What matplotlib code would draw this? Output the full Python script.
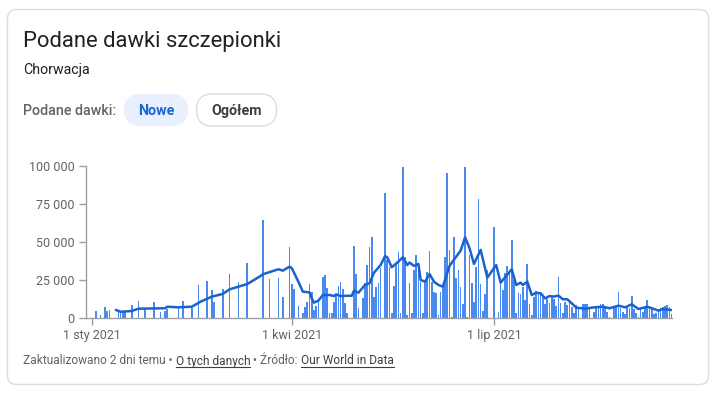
import numpy as np
import pandas as pd
import matplotlib
matplotlib.use("Agg")
import matplotlib.pyplot as plt
from matplotlib.patches import FancyBboxPatch
from matplotlib.transforms import IdentityTransform

plt.rcParams['font.family'] = ['Roboto', 'DejaVu Sans']

# daily doses: day offset from 1 Jan 2021 -> doses
bar_days = [-3, 2, 4, 6, 7, 8, 12, 13, 14, 15, 18, 21, 24, 28, 31, 33, 34, 39, 41, 45,
            48, 52, 54, 55, 59, 62, 66, 70, 77, 80, 84, 86, 89, 90, 91, 93, 95, 96, 97, 98,
            99, 100, 101, 102, 104, 105, 106, 107, 108, 109, 110, 111, 112, 113, 114, 115,
            118, 119, 120, 122, 123, 124, 125, 126, 127, 128, 129, 130, 132, 133, 134, 135,
            136, 137, 138, 139, 140, 141, 142, 143, 144, 145, 146, 147, 148, 149, 150, 151,
            152, 153, 154, 155, 156, 157, 158, 159, 160, 161, 162, 163, 164, 165, 166, 167,
            168, 169, 170, 171, 172, 173, 174, 175, 176, 177, 178, 181, 183, 184, 185, 186,
            187, 188, 189, 190, 191, 192, 193, 194, 195, 196, 197, 198, 199, 200, 201, 202,
            203, 204, 205, 206, 207, 208, 209, 210, 211, 212, 213, 214, 215, 216, 217, 218,
            219, 221, 222, 223, 224, 226, 227, 228, 229, 230, 231, 232, 233, 235, 236, 237,
            238, 239, 240, 241, 242, 243, 244, 245, 246, 247, 248, 249, 250, 251, 252, 253,
            254, 255, 256, 257, 258, 259, 260, 261]
bar_vals = [8300, 4800, 2200, 7200, 4800, 5400, 5700, 4000, 4500, 4500, 8700, 11400, 6600, 10500, 4300, 4800, 6300, 6500, 11400, 7000,
            21900, 24500, 18600, 10900, 19200, 29100, 23900, 36100, 64600, 25600, 26300, 14200, 46600, 22500, 19200, 8100, 3300, 7600, 10900, 22500,
            17500, 5400, 8100, 10900, 26900, 28400, 19700, 3300, 3700, 10900, 15300, 21400, 24000, 19000, 9800, 3300,
            47500, 29100, 6600, 13100, 23000, 35000, 46600, 53200, 14200, 20800, 23000, 33300, 82100, 38300, 33900, 3300,
            21200, 36100, 43800, 3300, 99600, 40500, 2200, 23000, 3300, 31700, 41600, 36100, 24000, 3300, 24000, 30600,
            44400, 24000, 17500, 16400, 2200, 17500, 21900, 40500, 95700, 44900, 1100, 53200, 26300, 31700, 20800, 9400,
            99600, 1100, 41600, 23000, 10900, 33900, 78200, 22500, 5000, 16000, 31700, 59800, 4300, 23600, 18600, 29600,
            34400, 31700, 51400, 25200, 3700, 16400, 16000, 20800, 12200, 35700, 9400, 2200, 13800, 18100, 16400, 16400,
            13800, 9400, 12500, 10300, 14000, 12500, 8100, 26900, 9800, 3300, 10700, 8700, 12000, 7600, 3300, 8700,
            6600, 9400, 9400, 9400, 7600, 4300, 8100, 8100, 9400, 9400, 7600, 4300, 1100, 8100, 8100, 17100,
            6600, 4300, 2800, 7600, 6600, 14600, 5900, 3300, 1100, 6600, 4300, 6600, 12000, 5900, 6600, 2800,
            3300, 5900, 6600, 7200, 8100, 8700, 7200, 2800]

# 7-day average line
avg_days = [11, 13, 18, 21, 33, 34, 39, 45, 49, 54, 59, 62, 70, 76, 77, 84, 86, 89, 90, 93,
            95, 98, 99, 100, 102, 104, 107, 109, 110, 112, 115, 117, 118, 120, 123, 125, 127, 130, 132, 133,
            135, 138, 140, 142, 143, 145, 147, 148, 150, 152, 154, 156, 158, 161, 164, 166, 168, 170, 172, 175,
            178, 182, 184, 189, 191, 193, 194, 196, 198, 200, 202, 204, 206, 208, 210, 212, 214, 216, 218, 222,
            226, 230, 233, 237, 240, 243, 246, 250, 253, 255, 257, 261]
avg_vals = [5400, 4300, 4800, 6300, 6600, 7600, 7200, 7600, 10900, 14200, 16000, 19000, 22500, 27800, 28900, 32200, 31300, 33900, 33000, 24000,
            17500, 17000, 13100, 10300, 11600, 15300, 15300, 14600, 15700, 14600, 14800, 14800, 18100, 16800, 21900, 23000, 29900, 35000, 40900, 40000,
            33500, 37200, 40100, 35000, 36600, 34400, 35700, 25200, 24000, 29100, 24000, 21900, 20800, 34400, 40500, 44400, 53200, 46000, 35700, 44900,
            26700, 35000, 23400, 32200, 21900, 23400, 21900, 24000, 15300, 16800, 16400, 13100, 14600, 14300, 14900, 12500, 12500, 9800, 7000, 6300,
            7200, 7600, 6600, 8300, 7200, 9200, 6100, 7600, 6100, 5000, 6100, 5400]

y_ticks = [0, 25000, 50000, 75000, 100000]
x_tick_dates = ['2021-01-01', '2021-04-01', '2021-07-01']
x_tick_labels = ['1 sty 2021', '1 kwi 2021', '1 lip 2021']

start = pd.Timestamp('2021-01-01')
bar_x = start + pd.to_timedelta(bar_days, unit='D')
avg_x = start + pd.to_timedelta(avg_days, unit='D')

W, H = 723, 393
fig = plt.figure(figsize=(W / 100, H / 100), dpi=100)
fig.patch.set_facecolor('white')

def px(x, y):
    return x / W, 1 - y / H

# card
card = FancyBboxPatch((7.5, 8.5), 701, 375, boxstyle="round,pad=0,rounding_size=9",
                      transform=IdentityTransform(), facecolor='white', edgecolor='#dadce0', lw=1, zorder=-5)
fig.patches.append(card)

fig.text(*px(23, 42), 'Podane dawki szczepionki', fontsize=15.8, color='#202124', va='center')
fig.text(*px(23, 70), 'Chorwacja', fontsize=10.2, color='#202124', va='center')
fig.text(*px(23, 111), 'Podane dawki:', fontsize=10.3, color='#5f6368', va='center', fontweight='medium')

chip1 = FancyBboxPatch((124, H - 126), 64, 32, boxstyle="round,pad=0,rounding_size=16",
                       transform=IdentityTransform(), facecolor='#e8f0fe', edgecolor='none', zorder=-4)
chip2 = FancyBboxPatch((196.5, H - 126), 80, 32, boxstyle="round,pad=0,rounding_size=16",
                       transform=IdentityTransform(), facecolor='white', edgecolor='#dadce0', lw=1, zorder=-4)
fig.patches.extend([chip1, chip2])
fig.text(*px(156, 111), 'Nowe', fontsize=10.3, color='#1967d2', va='center', ha='center', fontweight='semibold')
fig.text(*px(236.5, 111), 'Ogółem', fontsize=10.3, color='#3c4043', va='center', ha='center', fontweight='semibold')

# chart
ax = fig.add_axes([85.7 / W, 1 - 318.3 / H, (672 - 85.7) / W, (318.3 - 166) / H])
ax.set_zorder(2)
ax.set_facecolor('none')
ax.bar(bar_x, bar_vals, width=0.75, color='#4a8af0', linewidth=0, zorder=2)
ax.plot(avg_x, avg_vals, color='#1a62cc', lw=1.8, zorder=3, solid_joinstyle='round')

ax.set_ylim(0, 100000)
ax.set_xlim(start - pd.Timedelta(days=2.7), start + pd.Timedelta(days=261.1))
ax.set_yticks(y_ticks)
ax.set_yticklabels(['{:,}'.format(v).replace(',', ' ') for v in y_ticks])
ax.set_xticks(pd.to_datetime(x_tick_dates))
ax.set_xticklabels(x_tick_labels)
for s in ['top', 'right']:
    ax.spines[s].set_visible(False)
for s in ['left', 'bottom']:
    ax.spines[s].set_color('#9aa0a6')
    ax.spines[s].set_linewidth(1)
ax.tick_params(axis='both', colors='#9aa0a6', length=5, width=1, labelsize=9, labelcolor='#5f6368')
ax.tick_params(axis='y', pad=3)
ax.tick_params(axis='x', pad=3)

# footer with underlined links
fig.canvas.draw()
renderer = fig.canvas.get_renderer()
parts = [('Zaktualizowano 2 dni temu • ', False), ('O tych danych', True),
         (' • Źródło: ', False), ('Our World in Data', True)]
xcur = 23
for txt, link in parts:
    t = fig.text(*px(xcur, 361), txt, fontsize=8.6, color='#3c4043' if link else '#5f6368', va='center')
    bb = t.get_window_extent(renderer)
    if link:
        fig.add_artist(plt.Line2D([bb.x0, bb.x1], [bb.y0 + 1, bb.y0 + 1], transform=IdentityTransform(),
                                  color='#3c4043', lw=0.8))
    xcur += bb.width

fig.savefig('out.png', dpi=100, facecolor='white')
